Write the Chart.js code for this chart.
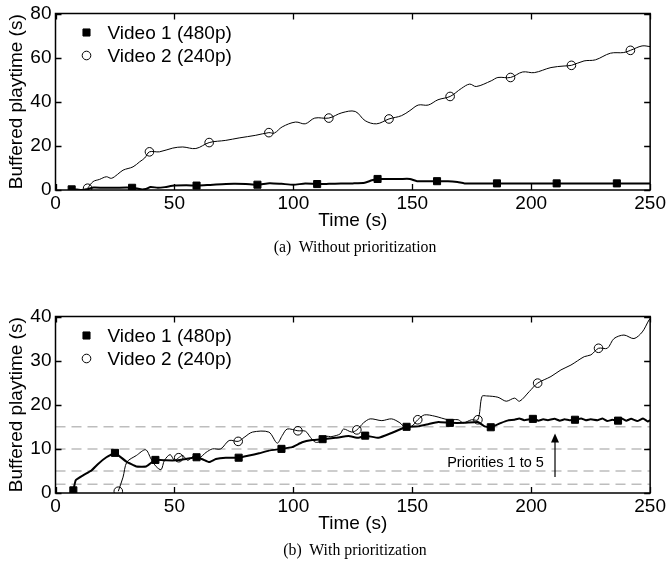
<!DOCTYPE html>
<html><head><meta charset="utf-8">
<script src="https://cdn.jsdelivr.net/npm/chart.js@4.4.1/dist/chart.umd.min.js"></script>
<style>
html,body{margin:0;padding:0;background:#fff;}
#wrap{position:relative;width:670px;height:570px;overflow:hidden;background:#fff;}
canvas{position:absolute;left:0;}
.cap{position:absolute;left:0;width:710px;text-align:center;font-family:"Liberation Serif","Times New Roman",serif;font-size:15.8px;line-height:18px;color:#000;white-space:pre;}
</style>
</head><body>
<div id="wrap">
<canvas id="cA" width="670" height="240" style="top:0px"></canvas>
<canvas id="cB" width="670" height="240" style="top:303px"></canvas>
<div class="cap" style="top:238px">(a)  Without prioritization</div>
<div class="cap" style="top:541px">(b)  With prioritization</div>
</div>
<script>
// ---------- DATA ----------
const xTickValues = [0, 50, 100, 150, 200, 250];
const yTicksA = [0, 20, 40, 60, 80];
const yTicksB = [0, 10, 20, 30, 40];
const seriesNames = ['Video 1 (480p)', 'Video 2 (240p)'];
const priorityLevels = [2, 5, 10, 15];

// (a) Without prioritization
const v1aTime = [6.8, 9, 11, 13, 16, 20, 25, 30, 33, 36, 38, 40, 43, 46, 50, 55, 60, 65, 70, 75, 80, 85, 90, 95, 100, 105, 110, 115, 120, 125, 130, 133, 135.4, 140, 145, 149, 152, 160.4, 165, 169, 172, 185.6, 210.7, 236, 250];
const v1aValue = [0.3, 0.2, 0, 0.3, 1.1, 1.0, 1.0, 1.1, 0.9, 0.3, 0.5, 1.4, 1.0, 1.3, 2.0, 2.1, 2.0, 2.3, 2.6, 2.8, 2.7, 2.4, 3.1, 2.8, 2.4, 2.9, 2.7, 2.8, 2.9, 3.0, 3.3, 4.4, 5.0, 5.0, 5.0, 5.0, 4.0, 4.0, 4.0, 3.6, 3.0, 3.0, 3.0, 3.0, 3.0];
const v1aMarkTime = [6.8, 32.2, 59.3, 84.9, 110, 135.4, 160.4, 185.6, 210.7, 236];
const v1aMarkValue = [0.3, 1.0, 2.0, 2.4, 2.7, 5.0, 4.0, 3.0, 3.0, 3.0];

const v2aTime = [13.5, 15.8, 18.5, 21.4, 23.5, 26, 28.4, 32.6, 35.4, 37.5, 39.5, 43.7, 49.3, 53.5, 59, 64.6, 71.6, 77.2, 84.2, 89.7, 92, 95.3, 100.9, 105, 109, 114.9, 120.4, 126, 130.2, 135, 140.2, 145.5, 149, 152.5, 156.7, 160.8, 165.9, 170.6, 174.1, 176.9, 183.2, 186, 191.3, 196.4, 201.3, 208.3, 213.8, 216.9, 222.2, 227, 233.3, 238.9, 241.7, 246.6, 250];
const v2aValue = [0.8, 3.8, 4.8, 6, 5.3, 7, 9, 10.5, 12.8, 14.5, 17.3, 17.3, 19, 19.5, 18.8, 21.5, 22.5, 23.6, 24.8, 26, 25.8, 28.6, 30.8, 30, 32.6, 32.6, 35, 35.6, 31.4, 30, 32.2, 33.7, 36, 38.5, 38.5, 40.9, 42.4, 46, 48, 46.9, 49.5, 51, 51, 53.5, 53.2, 55.5, 56.2, 56.5, 58.5, 59, 62, 62.3, 63.3, 65.3, 65];
const v2aMarkTime = [13.5, 39.5, 64.6, 89.7, 114.9, 140.2, 165.9, 191.3, 216.9, 241.7];
const v2aMarkValue = [0.8, 17.3, 21.5, 26, 32.6, 32.2, 42.4, 51, 56.5, 63.3];

// (b) With prioritization
const v1bTime = [7.5, 8.5, 11.6, 15.1, 17.9, 21.4, 25, 27, 29.8, 34, 38.1, 42, 46.5, 50.7, 54.9, 59.3, 62, 64.6, 67.4, 71.6, 77, 81.4, 85.6, 89.7, 95, 99.5, 103.7, 107.9, 112.3, 117.7, 123.2, 127.4, 130.2, 135.8, 141.3, 147.6, 152.5, 156.7, 160.9, 165.8, 172, 177.6, 180.4, 183, 187.4, 190, 193, 195, 197, 200.7, 203, 205, 207, 209.8, 212, 214, 216, 218.4, 221, 223, 225, 227.9, 230, 232, 234, 236.5, 238, 240, 242, 244.6, 247, 249, 250];
const v1bValue = [0.6, 2.9, 4, 5.1, 6.6, 8.1, 9.1, 8.3, 7.1, 6, 6, 7.5, 7.4, 7.4, 7.7, 8.1, 7.6, 7, 7.7, 8, 8, 8.5, 9, 9.6, 10, 10.4, 11.5, 12, 12.2, 12.5, 12.9, 12.5, 13, 12.5, 13.6, 15, 15.1, 15.6, 16.1, 15.9, 15.9, 16.1, 15.1, 14.9, 15.9, 16.4, 16.6, 16.9, 16.5, 16.8, 16.4, 16.7, 16.5, 16.8, 16.4, 16.7, 16.5, 16.6, 16.9, 16.5, 16.7, 16.5, 16.9, 16.3, 16.6, 16.4, 16.9, 16.4, 16.8, 16.3, 16.9, 16.2, 16.5];
const v1bMarkTime = [7.5, 25, 42, 59.3, 77, 95, 112.3, 130.2, 147.6, 165.8, 183, 200.7, 218.4, 236.5];
const v1bMarkValue = [0.6, 9.1, 7.5, 8.1, 8, 10, 12.2, 13, 15, 15.9, 14.9, 16.8, 16.6, 16.4];

const v2bTime = [26.4, 28.4, 30, 34, 37.9, 40.2, 42.3, 44.4, 45.8, 48.2, 50, 51.8, 53.5, 55.6, 58.4, 60.5, 63.3, 66, 69.5, 73, 76.8, 79.3, 82.8, 89.7, 93.2, 95.3, 97.4, 101.9, 105.1, 107.2, 109.3, 111.3, 113.5, 116.2, 119.7, 121.1, 124.6, 126.7, 129.5, 132.3, 137.2, 141.3, 144.8, 146.9, 149.7, 152.3, 155.1, 159.5, 165.1, 169.3, 171.4, 174.9, 177.6, 179.3, 181.2, 186, 189.5, 193, 195.1, 199.2, 202.7, 208.3, 212.5, 216.7, 222.3, 225.1, 228.3, 232, 234.8, 239, 243.2, 246.7, 249.5, 250];
const v2bValue = [0.4, 3.6, 7, 8.5, 9.8, 7.7, 6, 5.3, 7.4, 8.7, 7.4, 8, 8.5, 7.4, 8.5, 8, 9.2, 10, 10, 11.9, 11.7, 12.6, 13.8, 13.8, 11.3, 13, 14.5, 14.1, 14, 12.6, 11.5, 11.7, 12.8, 12.8, 13.4, 14.5, 13.8, 14.3, 15.9, 16.8, 16.4, 16.8, 15.9, 14.9, 15.1, 16.6, 17.7, 17.4, 16.6, 16.6, 15.9, 16.6, 16.6, 21.9, 22, 21.7, 20.8, 21.5, 20.8, 23, 24.9, 26.4, 27.9, 29, 30.9, 31.3, 32.8, 32.8, 35, 35.8, 35, 36.5, 39.2, 39.5];
const v2bMarkTime = [26.4, 51.8, 76.8, 101.9, 126.7, 152.3, 177.6, 202.7, 228.3];
const v2bMarkValue = [0.4, 8, 11.7, 14.1, 14.3, 16.6, 16.6, 24.9, 32.8];

const noteText = 'Priorities 1 to 5';
// ---------- END DATA ----------

const FONT = '"Liberation Sans", Arial, Helvetica, sans-serif';
Chart.defaults.font.family = FONT;
Chart.defaults.color = '#000';

function pts(t, v) { return t.map((x, i) => ({x: x, y: v[i]})); }

const framePlugin = {
  id: 'frame',
  afterDatasetsDraw(chart) {
    const {ctx, chartArea: a, scales: {x, y}} = chart;
    ctx.save();
    ctx.strokeStyle = '#000';
    ctx.lineWidth = 1.3;
    ctx.beginPath();
    x.ticks.forEach(t => {
      const px = Math.round(x.getPixelForValue(t.value)) + 0.5;
      ctx.moveTo(px, a.bottom); ctx.lineTo(px, a.bottom - 6);
      ctx.moveTo(px, a.top); ctx.lineTo(px, a.top + 6);
    });
    y.ticks.forEach(t => {
      const py = Math.round(y.getPixelForValue(t.value)) + 0.5;
      ctx.moveTo(a.left, py); ctx.lineTo(a.left + 6, py);
      ctx.moveTo(a.right, py); ctx.lineTo(a.right - 6, py);
    });
    ctx.stroke();
    ctx.lineWidth = 1.5;
    ctx.strokeRect(a.left, a.top, a.right - a.left, a.bottom - a.top);
    ctx.restore();
  }
};

const legendPlugin = {
  id: 'boxLegend',
  afterDraw(chart) {
    const {ctx, chartArea: a} = chart;
    const entries = chart.data.datasets.filter(d => d.legendEntry);
    ctx.save();
    entries.forEach((d, i) => {
      const cy = a.top + 19 + i * 23;
      const cx = a.left + 31;
      ctx.fillStyle = d.pointBackgroundColor;
      ctx.strokeStyle = d.pointBorderColor;
      ctx.lineWidth = d.pointBorderWidth;
      Chart.helpers.drawPoint(ctx, {pointStyle: d.pointStyle, radius: d.pointRadius, rotation: 0, borderWidth: d.pointBorderWidth}, cx, cy);
      ctx.fillStyle = '#000';
      ctx.font = '19px ' + FONT;
      ctx.textAlign = 'left';
      ctx.textBaseline = 'middle';
      ctx.fillText(d.label, a.left + 52, cy + 1);
    });
    ctx.restore();
  }
};

const notePlugin = {
  id: 'note',
  afterDatasetsDraw(chart, args, opts) {
    if (!opts || !opts.text) return;
    const {ctx, scales: {x, y}} = chart;
    ctx.save();
    ctx.fillStyle = '#000';
    ctx.font = '14.5px ' + FONT;
    ctx.textAlign = 'center';
    ctx.textBaseline = 'middle';
    ctx.fillText(opts.text, x.getPixelForValue(opts.textT), y.getPixelForValue(opts.textV));
    const ax = x.getPixelForValue(opts.arrowT);
    const y0 = y.getPixelForValue(opts.arrowFrom);
    const y1 = y.getPixelForValue(opts.arrowTo);
    ctx.strokeStyle = '#000';
    ctx.lineWidth = 1.2;
    ctx.beginPath();
    ctx.moveTo(ax, y0); ctx.lineTo(ax, y1 + 7);
    ctx.stroke();
    ctx.beginPath();
    ctx.moveTo(ax, y1); ctx.lineTo(ax - 4, y1 + 9); ctx.lineTo(ax + 4, y1 + 9); ctx.closePath();
    ctx.fill();
    ctx.restore();
  }
};

function lineDs(label, data, width, tension) {
  return {label: label, data: data, borderColor: '#000', borderWidth: width, pointRadius: 0, fill: false, tension: tension, order: 2};
}
function markDs(label, data, style) {
  const isRect = style === 'rect';
  return {
    label: label, data: data, showLine: false, legendEntry: true, order: 1,
    pointStyle: style, pointRadius: isRect ? 5 : 4.3,
    pointBackgroundColor: isRect ? '#000' : 'rgba(0,0,0,0)',
    pointBorderColor: '#000', pointBorderWidth: 1,
    backgroundColor: isRect ? '#000' : 'rgba(0,0,0,0)', borderColor: '#000'
  };
}

function makeChart(id, datasets, yTicks, note) {
  const yMax = yTicks[yTicks.length - 1];
  return new Chart(document.getElementById(id), {
    type: 'line',
    data: {datasets: datasets},
    plugins: [framePlugin, legendPlugin, notePlugin],
    options: {
      responsive: false, animation: false, devicePixelRatio: 1,
      layout: {padding: {top: 12, right: 16, left: 0, bottom: 0}},
      plugins: {legend: {display: false}, tooltip: {enabled: false}, note: note || {}},
      scales: {
        x: {
          type: 'linear', min: xTickValues[0], max: xTickValues[xTickValues.length - 1],
          afterBuildTicks: s => { s.ticks = xTickValues.map(v => ({value: v})); },
          afterFit: s => { s.height = 50; },
          grid: {display: false, drawTicks: false}, border: {display: false},
          ticks: {padding: 4, font: {size: 19, lineHeight: 1}, color: '#000', maxRotation: 0},
          title: {display: true, text: 'Time (s)', font: {size: 19, lineHeight: 1}, color: '#000', padding: {top: 0, bottom: 10}}
        },
        y: {
          type: 'linear', min: yTicks[0], max: yMax,
          afterBuildTicks: s => { s.ticks = yTicks.map(v => ({value: v})); },
          afterFit: s => { s.width = 55.5; },
          grid: {display: false, drawTicks: false}, border: {display: false},
          ticks: {padding: 4, font: {size: 19, lineHeight: 1}, color: '#000'},
          title: {display: true, text: 'Buffered playtime (s)', font: {size: 19, lineHeight: 1}, color: '#000', padding: {top: 7.5, bottom: 0}}
        }
      }
    }
  });
}

makeChart('cA', [
  markDs(seriesNames[0], pts(v1aMarkTime, v1aMarkValue), 'rect'),
  markDs(seriesNames[1], pts(v2aMarkTime, v2aMarkValue), 'circle'),
  lineDs(seriesNames[0], pts(v1aTime, v1aValue), 2, 0.2),
  lineDs(seriesNames[1], pts(v2aTime, v2aValue), 1, 0.35)
], yTicksA, null);

const dashed = priorityLevels.map(lv => ({
  label: 'P' + lv, data: [{x: xTickValues[0], y: lv}, {x: xTickValues[xTickValues.length - 1], y: lv}],
  borderColor: '#bdbdbd', borderWidth: 1.5, borderDash: [10, 6], pointRadius: 0, order: 5
}));

makeChart('cB', [
  markDs(seriesNames[0], pts(v1bMarkTime, v1bMarkValue), 'rect'),
  markDs(seriesNames[1], pts(v2bMarkTime, v2bMarkValue), 'circle'),
  lineDs(seriesNames[0], pts(v1bTime, v1bValue), 2, 0.1),
  lineDs(seriesNames[1], pts(v2bTime, v2bValue), 1, 0.3)
].concat(dashed), yTicksB, {text: noteText, textT: 185, textV: 6.9, arrowT: 210, arrowFrom: 3.6, arrowTo: 13.5});
</script>
</body></html>
